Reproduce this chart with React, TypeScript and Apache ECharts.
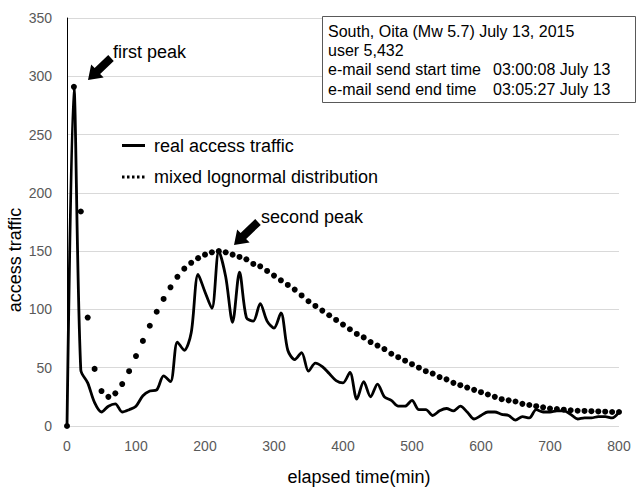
import React, { useEffect, useRef } from "react";
import * as echarts from "echarts";

const times = [
  0, 10, 20, 30, 40, 50, 60, 70, 80, 90, 100, 110, 120, 130, 140, 150, 160, 170, 180, 190, 200,
  210, 220, 230, 240, 250, 260, 270, 280, 290, 300, 310, 320, 330, 340, 350, 360, 370, 380, 390, 400,
  410, 420, 430, 440, 450, 460, 470, 480, 490, 500, 510, 520, 530, 540, 550, 560, 570, 580, 590, 600,
  610, 620, 630, 640, 650, 660, 670, 680, 690, 700, 710, 720, 730, 740, 750, 760, 770, 780, 790, 800,
];

const realTraffic = [
  0, 291, 48, 37, 20, 12, 17, 19, 12, 14, 17, 26, 30, 31, 43, 38, 72, 65, 80, 130, 115,
  101, 150, 128, 89, 132, 93, 90, 105, 90, 84, 97, 65, 57, 63, 47, 54, 51, 45, 39, 37,
  46, 23, 38, 25, 36, 25, 22, 17, 17, 22, 14, 14, 9, 13, 15, 13, 17, 12, 6, 9,
  12, 12, 10, 9, 5, 8, 7, 14, 12, 12, 13, 13, 10, 6, 7, 7, 8, 8, 7, 12,
];

const lognormal = [
  0, 291, 184, 93, 49, 30, 25, 28, 36, 47, 60, 73, 86, 98, 109, 119, 128, 135, 140, 144, 147,
  149, 150, 149, 147, 145, 143, 139, 137, 133, 129, 125, 121, 117, 112, 107, 103, 99, 95, 91, 87,
  83, 79, 76, 72, 69, 66, 62, 59, 56, 53, 50, 47, 45, 42, 40, 37, 35, 33, 31, 29,
  27, 25, 23, 22, 21, 19, 18, 17, 16, 15, 14.6, 14, 13.5, 13.1, 12.9, 12.7, 12.5, 12.3, 12, 12,
];

const legendNames = ["real access traffic", "mixed lognormal distribution"];
const infoLines = ["South, Oita (Mw 5.7) July 13, 2015", "user 5,432", "e-mail send start time", "e-mail send end time"];
const infoTimes = ["", "", "03:00:08 July 13", "03:05:27 July 13"];
const xTitle = "elapsed time(min)";
const yTitle = "access traffic";

const SANS = "'Liberation Sans', Arial, sans-serif";

function arrowPoints(tip: number[], tail: number[], headLen = 13, headHalf = 9, shaftHalf = 4) {
  const dx = tip[0] - tail[0];
  const dy = tip[1] - tail[1];
  const len = Math.sqrt(dx * dx + dy * dy);
  const ux = dx / len, uy = dy / len;
  const nx = -uy, ny = ux;
  const bx = tip[0] - ux * headLen, by = tip[1] - uy * headLen;
  return [
    [tip[0], tip[1]],
    [bx + nx * headHalf, by + ny * headHalf],
    [bx + nx * shaftHalf, by + ny * shaftHalf],
    [tail[0] + nx * shaftHalf, tail[1] + ny * shaftHalf],
    [tail[0] - nx * shaftHalf, tail[1] - ny * shaftHalf],
    [bx - nx * shaftHalf, by - ny * shaftHalf],
    [bx - nx * headHalf, by - ny * headHalf],
  ];
}

export default function App() {
  const ref = useRef<HTMLDivElement>(null);
  useEffect(() => {
    document.body.style.margin = "0";
    const chart = echarts.init(ref.current!, null, { renderer: "svg" });
    const txt = (text: string, x: number, y: number, size: number, align = "left", extra: any = {}) => ({
      type: "text",
      x,
      y,
      ...extra,
      style: {
        text,
        fontSize: size,
        fontFamily: SANS,
        fill: "#000",
        textAlign: align,
        textVerticalAlign: "middle",
      },
    });
    const graphic: any[] = [
      {
        type: "rect",
        shape: { x: 322.5, y: 16.5, width: 313, height: 86 },
        style: { fill: "#fff", stroke: "#595959", lineWidth: 1 },
        z: 10,
      },
      ...infoLines.map((t, i) => ({ ...txt(t, 328, 31.5 + i * 19.2, 16), z: 11 })),
      ...infoTimes.map((t, i) => ({ ...txt(t, 493, 31.5 + i * 19.2, 16), z: 11 })),
      txt("first peak", 113, 52, 18),
      txt("second peak", 261, 217, 18),
      { type: "polygon", shape: { points: arrowPoints([88, 80], [111, 58]) }, style: { fill: "#000" }, z: 12 },
      { type: "polygon", shape: { points: arrowPoints([234, 245], [258, 222]) }, style: { fill: "#000" }, z: 12 },
      {
        type: "line",
        shape: { x1: 122, y1: 145.5, x2: 145, y2: 145.5 },
        style: { stroke: "#000", lineWidth: 3 },
      },
      {
        type: "line",
        shape: { x1: 122, y1: 177, x2: 145, y2: 177 },
        style: { stroke: "#000", lineWidth: 3, lineDash: [2.5, 2.5] },
      },
      txt(legendNames[0], 154, 145.5, 18),
      txt(legendNames[1], 154, 177, 18),
      txt(xTitle, 359, 477, 18, "center"),
      txt(yTitle, 15, 260, 18, "center", { rotation: Math.PI / 2 }),
    ];
    chart.setOption({
      animation: false,
      backgroundColor: "#fff",
      grid: { left: 67, right: 18, top: 18, bottom: 61, containLabel: false },
      xAxis: {
        type: "value",
        min: 0,
        max: 800,
        interval: 100,
        axisLine: { show: false },
        axisTick: { show: false },
        splitLine: { show: false },
        axisLabel: { color: "#595959", fontSize: 14, fontFamily: SANS, margin: 13 },
      },
      yAxis: {
        type: "value",
        min: 0,
        max: 350,
        interval: 50,
        axisLine: { show: true, lineStyle: { color: "#000", width: 1 } },
        axisTick: { show: false },
        splitLine: { show: true, lineStyle: { color: "#d9d9d9", width: 1 } },
        axisLabel: { color: "#595959", fontSize: 14, fontFamily: SANS, margin: 15 },
      },
      series: [
        {
          name: legendNames[0],
          type: "line",
          data: times.map((t, i) => [t, realTraffic[i]]),
          smooth: 0.3,
          showSymbol: false,
          lineStyle: { color: "#000", width: 2.8 },
          z: 3,
        },
        {
          name: legendNames[1],
          type: "scatter",
          data: times.map((t, i) => [t, lognormal[i]]),
          symbol: "circle",
          symbolSize: 6,
          itemStyle: { color: "#000", opacity: 1 },
          z: 4,
        },
      ],
      graphic,
    });
    return () => chart.dispose();
  }, []);
  return <div ref={ref} style={{ position: "fixed", left: 0, top: 0, width: 637, height: 487 }} />;
}
